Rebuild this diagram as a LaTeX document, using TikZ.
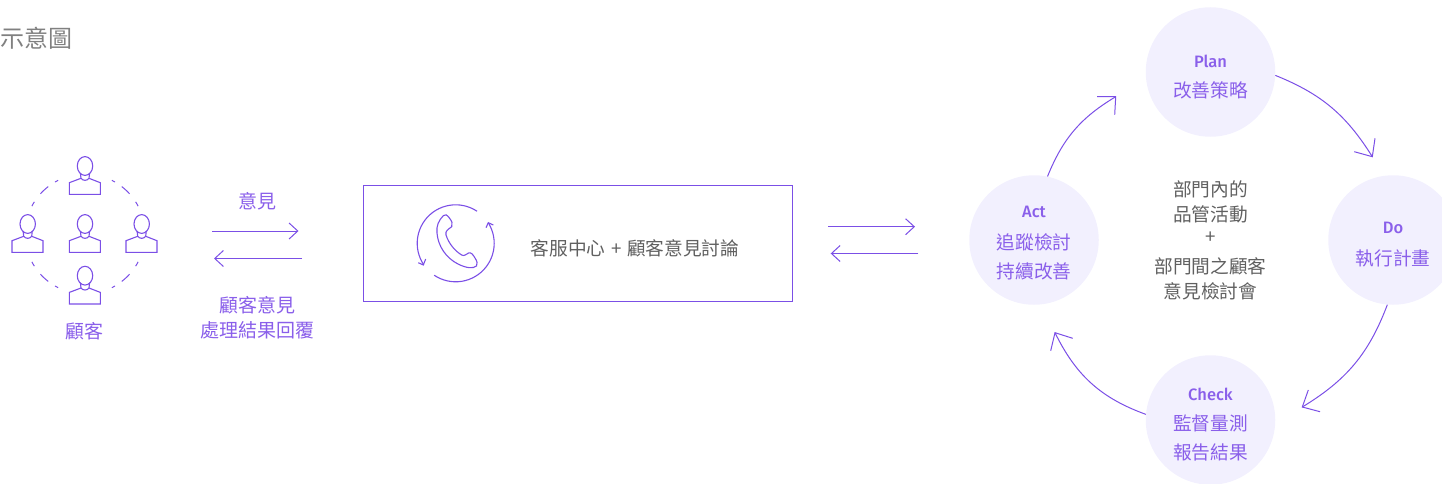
\documentclass[tikz,border=0pt]{standalone}
\usepackage{fontspec}
\usetikzlibrary{arrows.meta}
\setmainfont{Noto Sans CJK TC}
\newfontfamily\latinfont{Fira Sans Medium}
\definecolor{linepurple}{HTML}{7B4FE6}
\definecolor{textpurple}{HTML}{8A5FEA}
\definecolor{fillpurple}{HTML}{F2F0FE}
\definecolor{greytext}{HTML}{606060}
\definecolor{titlegrey}{HTML}{808080}
\tikzset{
  line/.style={draw=linepurple,line width=1pt},
  iconline/.style={draw=linepurple,line width=1.1pt},
  head/.style={line,line join=miter},
  smallarrow/.style={line,-{Straight Barb[length=8.7pt,width=16pt,line width=1pt]}},
  stage/.style={circle,fill=fillpurple,minimum size=129.5pt,inner sep=0pt},
  cjklabel/.style={text=textpurple,font=\fontsize{18.7pt}{22pt}\selectfont,inner sep=0pt},
  leftlabel/.style={text=textpurple,font=\fontsize{19pt}{22pt}\selectfont,inner sep=0pt},
  enlabel/.style={text=textpurple,font=\latinfont\fontsize{16.5pt}{20pt}\selectfont,inner sep=0pt},
  greylabel/.style={text=greytext,font=\fontsize{18.7pt}{22pt}\selectfont,inner sep=0pt},
  person/.pic={
    \draw[iconline] (0,0) ellipse [x radius=7.7,y radius=9.4];
    \draw[iconline] (-4.6,7) -- (-4,12.3) -- (-15.7,16.7) -- (-15.7,28.3) -- (15.3,28.3) -- (15.3,16.7) -- (4,12.3) -- (4.6,7);
    \draw[iconline] (-4,12.3) .. controls (-2,15) and (2,15) .. (4,12.3);
  }
}
\begin{document}
\begin{tikzpicture}[x=1pt,y=-1pt]
\useasboundingbox (0,0) rectangle (1442,484);
\node[anchor=west,inner sep=0pt,text=titlegrey,font=\fontsize{24pt}{28pt}\selectfont] (title) at (0.5,38) {示意圖};

% customers
\foreach \nm/\px/\py in {pa/85/166,pb/27.7/224,pc/85/224,pd/141.7/224,pe/85/275.7}
  \pic (\nm) at (\px,\py) {person};
\foreach \a/\b in {116.6/120,127.8/138,147.6/152.3,63.4/60,52.2/42,32.4/27.7,
                   -116.6/-120,-127.8/-138,-147.6/-152.3,-63.4/-60,-52.2/-42,-32.4/-27.7}
  \draw[line] plot[smooth,domain=\a:\b,samples=6] ({85+60*cos(\x)},{234-60*sin(\x)});
\node[leftlabel] (customers) at (84,331) {顧客};

% first pair of arrows
\node[leftlabel] (opinion) at (257,201) {意見};
\coordinate (a1s) at (212,231); \coordinate (a1e) at (298.5,231);
\coordinate (a2s) at (302,258.5); \coordinate (a2e) at (214,258.5);
\draw[smallarrow] (a1s) -- (a1e);
\draw[smallarrow] (a2s) -- (a2e);
\node[leftlabel] (reply1) at (257,305) {顧客意見};
\node[leftlabel] (reply2) at (257,330) {處理結果回覆};

% service box
\node[draw=linepurple,line width=1pt,minimum width=429pt,minimum height=116pt,inner sep=0pt] (box) at (578,243.5) {};
\node[greylabel] (boxtext) at (635,248) {客服中心\hspace{1.5pt} + \hspace{1.5pt}顧客意見討論};
% phone icon
\draw[iconline] plot[smooth,domain=56.4:213.8,samples=30] ({455.7+38.5*cos(\x)},{243.3-38.5*sin(\x)});
\draw[iconline] plot[smooth,domain=236:392,samples=30] ({455.7+38.5*cos(\x)},{243.3-38.5*sin(\x)});
\coordinate (ph1a) at (418.3,262.7); \coordinate (ph1t) at (423.3,265); \coordinate (ph1b) at (425.7,259);
\coordinate (ph2a) at (486,227.7); \coordinate (ph2t) at (488.3,222.7); \coordinate (ph2b) at (493.3,225);
\draw[iconline] (ph1a) -- (ph1t) -- (ph1b);
\draw[iconline] (ph2a) -- (ph2t) -- (ph2b);
\draw[iconline] (443.3,215.7) .. controls (445,213.5) and (447,215) .. (449,217.5)
  .. controls (452,221) and (453,224) .. (451.7,226.7)
  .. controls (448,229.5) and (445,231) .. (446,235)
  .. controls (449,244) and (455,251) .. (461.7,255)
  .. controls (464,256.5) and (467,254) .. (468.5,253)
  .. controls (471,252) and (473,254.5) .. (475,258)
  .. controls (477,261) and (478,264) .. (476.5,266)
  .. controls (473,269) and (466,268) .. (458,264)
  .. controls (446,258) and (438,246) .. (437,233)
  .. controls (436,226) and (439,220) .. (443.3,215.7) -- cycle;

% second pair of arrows
\coordinate (b1s) at (828,226.7); \coordinate (b1e) at (915,226.7);
\coordinate (b2s) at (918.3,253.5); \coordinate (b2e) at (830.7,253.5);
\draw[smallarrow] (b1s) -- (b1e);
\draw[smallarrow] (b2s) -- (b2e);

% PDCA
\node[stage] (plan) at (1210.5,72) {};
\node[stage] (act) at (1034,240) {};
\node[stage] (do) at (1393,240) {};
\node[stage] (check) at (1210.5,420) {};

\node[enlabel] (plantxt) at (1210.5,61) {Plan};
\node[cjklabel] (plantxtb) at (1210.5,90) {改善策略};
\node[enlabel] (acttxt) at (1034,212) {Act};
\node[cjklabel] (acttxtb) at (1034,242) {追蹤檢討};
\node[cjklabel] (acttxtc) at (1034,271) {持續改善};
\node[enlabel] (dotxt) at (1393,228) {Do};
\node[cjklabel] (dotxtb) at (1393,258) {執行計畫};
\node[enlabel] (checktxt) at (1210.5,394) {Check};
\node[cjklabel] (checktxtb) at (1210.5,423) {監督量測};
\node[cjklabel] (checktxtc) at (1210.5,452) {報告結果};

\node[greylabel] (c1) at (1210.5,189) {部門內的};
\node[greylabel] (c2) at (1210.5,214) {品管活動};
\node[greylabel] (c3) at (1210.5,238) {+};
\node[greylabel] (c4) at (1210.5,266) {部門間之顧客};
\node[greylabel] (c5) at (1210.5,291) {意見檢討會};

\coordinate (tipplan) at (1115.7,96.7);
\coordinate (tipdo) at (1372.3,156.7);
\coordinate (tipcheck) at (1302.3,407);
\coordinate (tipact) at (1055,332.7);
\coordinate (hpa) at (1097,96.7); \coordinate (hpb) at (1114.7,114.7);
\coordinate (hda) at (1354.3,151.7); \coordinate (hdb) at (1375,138.3);
\coordinate (hca) at (1308.3,390); \coordinate (hcb) at (1320,411.7);
\coordinate (haa) at (1072.7,338.3); \coordinate (hab) at (1050.7,350.7);
\draw[line] (act.78) to[bend left=18.5] (tipplan);
\draw[line] (plan.-3) to[bend left=18] (tipdo);
\draw[line] (do.-95) to[bend left=19] (tipcheck);
\draw[line] (check.175) to[bend left=22] (tipact);
\draw[head] (hpa) -- (tipplan) -- (hpb);
\draw[head] (hda) -- (tipdo) -- (hdb);
\draw[head] (hca) -- (tipcheck) -- (hcb);
\draw[head] (haa) -- (tipact) -- (hab);
\end{tikzpicture}
\end{document}
